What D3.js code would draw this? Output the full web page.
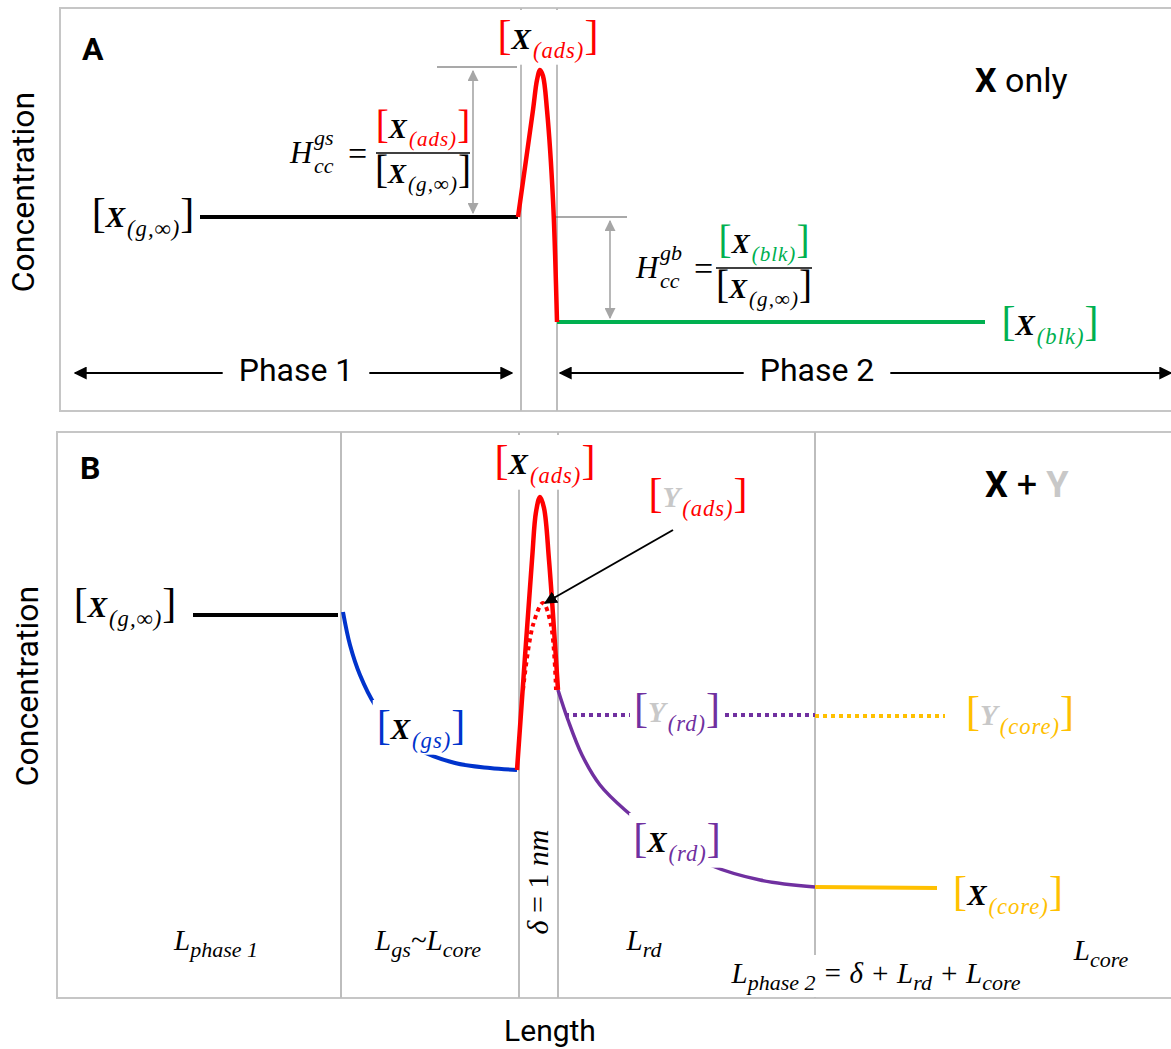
<!DOCTYPE html>
<html>
<head>
<meta charset="utf-8">
<script src="https://cdn.jsdelivr.net/npm/d3@7"></script>
<style>
  body { margin: 0; background: #fff; }
  svg { display: block; }
</style>
</head>
<body>
<div id="chart"></div>
<script>
// Schematic concentration profiles
// length units: arbitrary (0..111), concentration units: arbitrary
const boundsA = [46.1, 49.7];
const boundsB = [28.1, 45.9, 49.8, 75.5];

const gasA = [[14.0, 19.4], [45.8, 19.4]];
const adsPeakA = [[45.8, 19.4], [47.3, 30.1], [47.7, 33.1], [48.0, 34.1], [48.3, 33.5], [48.7, 30.1], [49.3, 21.1], [49.7, 8.9]];
const bulkA = [[49.7, 8.9], [92.5, 8.9]];

const gasB = [[13.3, 38.3], [27.8, 38.3]];
const gsCurveB = [[28.3, 38.6], [29.0, 35.3], [30.0, 32.3], [31.5, 29.3], [33.5, 26.8], [36.0, 24.8], [39.5, 23.5], [43.0, 23.0], [45.7, 22.8]];
const adsPeakB = [[45.7, 22.8], [47.2, 43.8], [47.6, 48.6], [48.0, 50.1], [48.4, 49.0], [48.9, 43.8], [49.8, 30.8]];
const yAdsPeakB = [[46.3, 30.8], [47.3, 37.3], [48.3, 39.5], [49.1, 37.3], [49.6, 30.8]];
const rdCurveB = [[49.8, 30.8], [50.8, 27.8], [52.2, 24.3], [54.0, 21.3], [56.5, 18.8], [60.0, 16.1], [65.0, 13.3], [70.0, 11.8], [75.5, 11.1]];
const coreB = [[75.5, 11.1], [87.7, 11.0]];
const yRdB = [[50.5, 28.3], [75.5, 28.3]];
const yCoreB = [[75.5, 28.2], [88.5, 28.2]];

// Henry's-constant reference arrows (x, from level, to level)
const hGsArrow = [41.3, 34.4, 19.4];
const hGbArrow = [55.0, 19.4, 8.9];
const yAdsArrow = [[61.3, 46.8], [48.5, 39.5]];

const W = 1171, H = 1049;
const mathFont = "'Liberation Serif', 'DejaVu Serif', serif";
const sansFont = "Roboto, 'Open Sans', sans-serif";
const RED = "#ff0000", GREEN = "#00b050", BLUE = "#0033cc", PURPLE = "#7030a0",
      GOLD = "#ffc000", LGREY = "#c8c8c8", FRAME = "#c6c6c6";

const svg = d3.select("#chart").append("svg")
    .attr("width", W).attr("height", H);

const defs = svg.append("defs");
function marker(id, color, size) {
    defs.append("marker")
        .attr("id", id)
        .attr("viewBox", "0 0 10 10")
        .attr("refX", 9).attr("refY", 5)
        .attr("markerUnits", "userSpaceOnUse")
        .attr("markerWidth", size).attr("markerHeight", size)
        .attr("orient", "auto-start-reverse")
        .append("path").attr("d", "M0,0 L10,5 L0,10 z").attr("fill", color);
}
marker("arrBlack", "#000", 13);
marker("arrGrey", "#a6a6a6", 11);

const x = d3.scaleLinear().domain([0, 111.1]).range([60, 1171]);
const yA = d3.scaleLinear().domain([0, 40.3]).range([411, 8]);
const yB = d3.scaleLinear().domain([0, 56.6]).range([998, 432]);

// frames
svg.append("rect").attr("x", 60).attr("y", 8).attr("width", 1200).attr("height", 403)
    .attr("fill", "none").attr("stroke", FRAME).attr("stroke-width", 2);
svg.append("rect").attr("x", 57).attr("y", 432).attr("width", 1200).attr("height", 566)
    .attr("fill", "none").attr("stroke", FRAME).attr("stroke-width", 2);

const gA = svg.append("g");
const gB = svg.append("g");

// interface lines
gA.selectAll(".bound").data(boundsA).join("line")
    .attr("x1", d => x(d)).attr("x2", d => x(d))
    .attr("y1", yA.range()[1]).attr("y2", yA.range()[0])
    .attr("stroke", "#bdbdbd").attr("stroke-width", 2);
gB.selectAll(".bound").data(boundsB).join("line")
    .attr("x1", d => x(d)).attr("x2", d => x(d))
    .attr("y1", yB.range()[1]).attr("y2", yB.range()[0])
    .attr("stroke", "#bdbdbd").attr("stroke-width", 2);

function drawPath(g, yScale, pts, color, width, curve, dash) {
    const line = d3.line().x(d => x(d[0])).y(d => yScale(d[1])).curve(curve || d3.curveLinear);
    const p = g.append("path").attr("d", line(pts))
        .attr("fill", "none").attr("stroke", color).attr("stroke-width", width)
        .attr("stroke-linejoin", "round");
    if (dash) p.attr("stroke-dasharray", dash);
    return p;
}

// ---- Panel A ----
// thin reference ticks
gA.append("line").attr("x1", x(37.7)).attr("x2", x(45.7))
    .attr("y1", yA(hGsArrow[1])).attr("y2", yA(hGsArrow[1]))
    .attr("stroke", "#555").attr("stroke-width", 1.2);
gA.append("line").attr("x1", x(49.3)).attr("x2", x(56.7))
    .attr("y1", yA(hGbArrow[1])).attr("y2", yA(hGbArrow[1]))
    .attr("stroke", "#555").attr("stroke-width", 1.2);
[hGsArrow, hGbArrow].forEach(a => {
    gA.append("line").attr("x1", x(a[0])).attr("x2", x(a[0]))
        .attr("y1", yA(a[1]) + 4).attr("y2", yA(a[2]) - 4)
        .attr("stroke", "#a6a6a6").attr("stroke-width", 1.6)
        .attr("marker-start", "url(#arrGrey)").attr("marker-end", "url(#arrGrey)");
});

drawPath(gA, yA, gasA, "#000", 4);
drawPath(gA, yA, bulkA, GREEN, 4);
drawPath(gA, yA, adsPeakA, RED, 4.5, d3.curveCatmullRom);

// phase arrows
function phaseArrow(g, x0, x1, yy, label, cx) {
    g.append("line").attr("x1", x(x0)).attr("x2", x(x1)).attr("y1", yy).attr("y2", yy)
        .attr("stroke", "#000").attr("stroke-width", 2)
        .attr("marker-start", "url(#arrBlack)").attr("marker-end", "url(#arrBlack)");
    const t = g.append("text").attr("x", x(cx)).attr("y", yy + 8)
        .attr("text-anchor", "middle").attr("font-family", sansFont)
        .attr("font-size", 32).text(label);
    const b = t.node().getBBox();
    g.insert("rect", () => t.node()).attr("x", b.x - 16).attr("y", b.y)
        .attr("width", b.width + 32).attr("height", b.height).attr("fill", "#fff");
}
phaseArrow(gA, 1.5, 45.2, yA(3.8), "Phase 1", 23.6);
phaseArrow(gA, 50.0, 111.1, yA(3.8), "Phase 2", 75.7);

// bracket labels: [ Main_(sub) ]
function bracketLabel(g, cx, cy, o) {
    const size = o.size || 29;
    const lg = g.append("g");
    const t = lg.append("text").attr("x", cx).attr("y", cy + size * 0.31)
        .attr("text-anchor", "middle").attr("font-family", mathFont);
    t.append("tspan").attr("font-size", size * 1.45).attr("fill", o.bracket).text("[");
    t.append("tspan").attr("font-size", size).attr("font-weight", "bold")
        .attr("font-style", "italic").attr("fill", o.mainColor || "#000").text(o.main);
    t.append("tspan").attr("font-size", size * 0.78).attr("font-style", "italic")
        .attr("letter-spacing", 1).attr("dx", 2)
        .attr("dy", size * 0.3).attr("fill", o.subColor || "#000").text(o.sub);
    t.append("tspan").attr("font-size", size * 1.45).attr("dy", -size * 0.3)
        .attr("fill", o.bracket).text("]");
    if (o.bg) {
        const b = t.node().getBBox();
        lg.insert("rect", () => t.node()).attr("x", b.x - 4).attr("y", b.y - 2)
            .attr("width", b.width + 8).attr("height", b.height + 4).attr("fill", "#fff");
    }
    return lg;
}

function henry(g, hx, hy, sup, numer, denom, barX0, barX1) {
    const f = g.append("g").attr("font-family", mathFont).attr("font-style", "italic");
    f.append("text").attr("x", hx).attr("y", hy + 10).attr("font-size", 31).text("H");
    f.append("text").attr("x", hx + 24).attr("y", hy - 8).attr("font-size", 22).text(sup);
    f.append("text").attr("x", hx + 24).attr("y", hy + 20).attr("font-size", 22).text("cc");
    f.append("text").attr("x", hx + 58).attr("y", hy + 12).attr("font-size", 34)
        .attr("font-style", "normal").text("=");
    g.append("line").attr("x1", barX0).attr("x2", barX1).attr("y1", hy).attr("y2", hy)
        .attr("stroke", "#000").attr("stroke-width", 1.4);
    const cx = (barX0 + barX1) / 2;
    bracketLabel(g, cx, hy - 23, Object.assign({ size: 27 }, numer));
    bracketLabel(g, cx, hy + 22, Object.assign({ size: 27 }, denom));
}

bracketLabel(gA, 548, 40, { main: "X", sub: "(ads)", bracket: RED, subColor: RED, bg: true });
bracketLabel(gA, 143, 218, { main: "X", sub: "(g,∞)", bracket: "#000", bg: true });
bracketLabel(gA, 1050, 326, { main: "X", sub: "(blk)", bracket: GREEN, subColor: GREEN, bg: true });
henry(gA, 290, 153, "gs",
    { main: "X", sub: "(ads)", bracket: RED, subColor: RED },
    { main: "X", sub: "(g,∞)", bracket: "#000" }, 376, 470);
henry(gA, 636, 268, "gb",
    { main: "X", sub: "(blk)", bracket: GREEN, subColor: GREEN },
    { main: "X", sub: "(g,∞)", bracket: "#000" }, 716, 812);

gA.append("text").attr("x", 82).attr("y", 60).attr("font-family", sansFont)
    .attr("font-weight", "bold").attr("font-size", 32).text("A");
const xo = gA.append("text").attr("x", 975).attr("y", 92)
    .attr("font-family", sansFont).attr("font-size", 34);
xo.append("tspan").attr("font-weight", "bold").text("X");
xo.append("tspan").text(" only");

// ---- Panel B ----
drawPath(gB, yB, gasB, "#000", 4);
drawPath(gB, yB, gsCurveB, BLUE, 4, d3.curveCatmullRom);
drawPath(gB, yB, rdCurveB, PURPLE, 3.5, d3.curveCatmullRom);
drawPath(gB, yB, coreB, GOLD, 4);
drawPath(gB, yB, yRdB, PURPLE, 4, null, "4 4");
drawPath(gB, yB, yCoreB, GOLD, 4, null, "4 4");
drawPath(gB, yB, adsPeakB, RED, 4.5, d3.curveCatmullRom);
drawPath(gB, yB, yAdsPeakB, RED, 4, d3.curveCatmullRom, "4 4");

gB.append("line")
    .attr("x1", x(yAdsArrow[0][0])).attr("y1", yB(yAdsArrow[0][1]))
    .attr("x2", x(yAdsArrow[1][0])).attr("y2", yB(yAdsArrow[1][1]))
    .attr("stroke", "#000").attr("stroke-width", 2)
    .attr("marker-end", "url(#arrBlack)");

bracketLabel(gB, 545, 465, { main: "X", sub: "(ads)", bracket: RED, subColor: RED, bg: true });
bracketLabel(gB, 698, 498, { main: "Y", mainColor: LGREY, sub: "(ads)", bracket: RED, subColor: RED, bg: true });
bracketLabel(gB, 125, 608, { main: "X", sub: "(g,∞)", bracket: "#000", bg: true });
bracketLabel(gB, 421, 730, { main: "X", sub: "(gs)", bracket: BLUE, subColor: BLUE, bg: true });
bracketLabel(gB, 677, 713, { main: "Y", mainColor: LGREY, sub: "(rd)", bracket: PURPLE, subColor: PURPLE, bg: true });
bracketLabel(gB, 1020, 716, { main: "Y", mainColor: LGREY, sub: "(core)", bracket: GOLD, subColor: GOLD, bg: true });
bracketLabel(gB, 677, 843, { main: "X", sub: "(rd)", bracket: PURPLE, subColor: PURPLE, bg: true });
bracketLabel(gB, 1008, 896, { main: "X", sub: "(core)", bracket: GOLD, subColor: GOLD, bg: true });

gB.append("text").attr("x", 80).attr("y", 479).attr("font-family", sansFont)
    .attr("font-weight", "bold").attr("font-size", 32).text("B");
const xy = gB.append("text").attr("x", 985).attr("y", 497)
    .attr("font-family", sansFont).attr("font-size", 36).attr("font-weight", "bold");
xy.append("tspan").text("X");
xy.append("tspan").attr("font-weight", "normal").text(" + ");
xy.append("tspan").attr("fill", LGREY).text("Y");

// length labels: parts = [[text, isSub], ...]
function lenLabel(g, cx, by, parts, bg) {
    const lg = g.append("g");
    const t = lg.append("text").attr("x", cx).attr("y", by).attr("text-anchor", "middle")
        .attr("font-family", mathFont).attr("font-style", "italic").attr("font-size", 29);
    let shifted = false;
    parts.forEach(([s, sub]) => {
        const ts = t.append("tspan").text(s);
        if (sub && !shifted) { ts.attr("dy", 7).attr("font-size", 22); shifted = true; }
        else if (sub) { ts.attr("font-size", 22); }
        else if (shifted) { ts.attr("dy", -7); shifted = false; }
    });
    if (bg) {
        const b = t.node().getBBox();
        lg.insert("rect", () => t.node()).attr("x", b.x - 6).attr("y", b.y - 2)
            .attr("width", b.width + 12).attr("height", b.height + 4).attr("fill", "#fff");
    }
}
lenLabel(gB, 216, 950, [["L"], ["phase 1", true]]);
lenLabel(gB, 428, 950, [["L"], ["gs", true], ["~L"], ["core", true]]);
lenLabel(gB, 644, 950, [["L"], ["rd", true]]);
lenLabel(gB, 1101, 960, [["L"], ["core", true]]);
lenLabel(gB, 876, 983, [["L"], ["phase 2", true], [" = δ + L"], ["rd", true], [" + L"], ["core", true]], true);

const dl = gB.append("text").attr("transform", `translate(${x(47.85) + 9},882) rotate(-90)`)
    .attr("text-anchor", "middle").attr("font-family", mathFont).attr("font-size", 30);
dl.append("tspan").attr("font-style", "italic").text("δ");
dl.append("tspan").text(" = 1 ");
dl.append("tspan").attr("font-style", "italic").text("nm");

// axis titles
svg.append("text").attr("transform", "translate(34,192) rotate(-90)")
    .attr("text-anchor", "middle").attr("font-family", sansFont).attr("font-size", 32)
    .text("Concentration");
svg.append("text").attr("transform", "translate(38,686) rotate(-90)")
    .attr("text-anchor", "middle").attr("font-family", sansFont).attr("font-size", 32)
    .text("Concentration");
svg.append("text").attr("x", 550).attr("y", 1041).attr("text-anchor", "middle")
    .attr("font-family", sansFont).attr("font-size", 30).text("Length");
</script>
</body>
</html>
